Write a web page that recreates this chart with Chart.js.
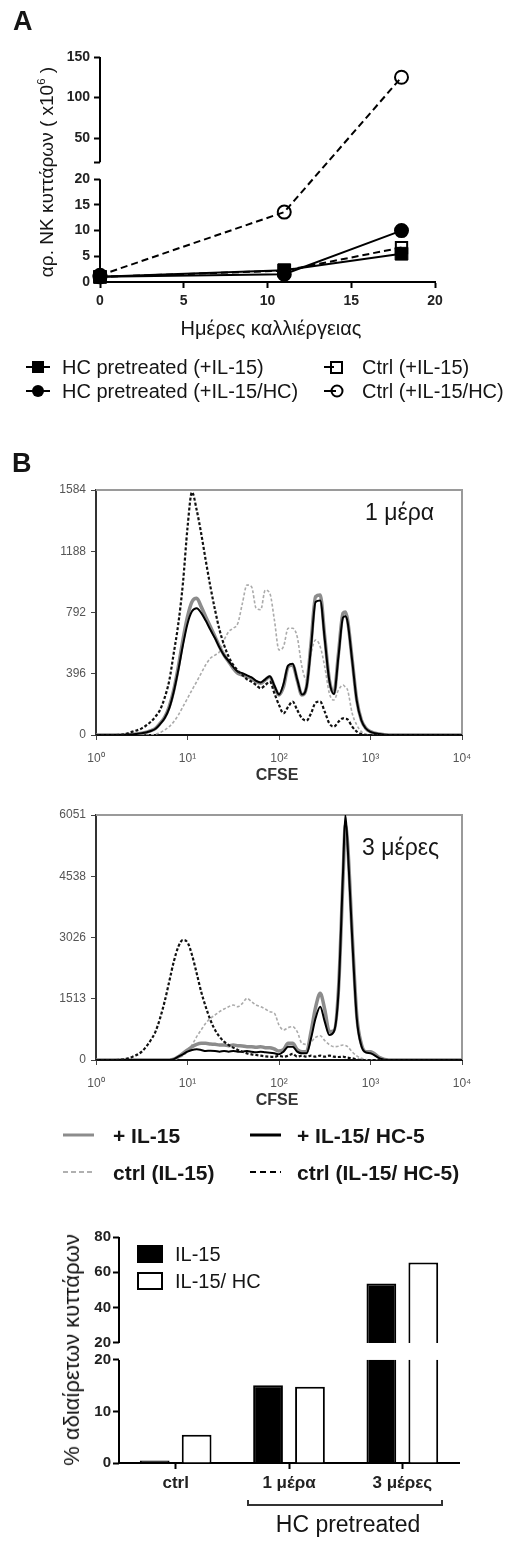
<!DOCTYPE html>
<html>
<head>
<meta charset="utf-8">
<script src="https://cdn.jsdelivr.net/npm/chart.js@4.4.1/dist/chart.umd.min.js"></script>
<style>
html, body { margin: 0; padding: 0; background: #fff; }
#fig { position: relative; width: 527px; height: 1548px; overflow: hidden; background: #fff;
       font-family: "Liberation Sans", Arial, sans-serif; color: #151515; }
#fig canvas { position: absolute; left: 0; }
.t { position: absolute; white-space: nowrap; line-height: 1; }
.c { transform: translate(-50%, -50%); }
.l { transform: translateY(-50%); }
.rot { transform: translate(-50%, -50%) rotate(-90deg); }
.b { font-weight: bold; }
sup { font-size: 60%; vertical-align: 0.7em; line-height: 0; }
.sw { position: absolute; transform: translateY(-50%); }
</style>
</head>
<body>
<div id="fig">
  <canvas id="chartA" width="527" height="345" style="top:0px"></canvas>
  <canvas id="chartDay1" width="527" height="310" style="top:470px"></canvas>
  <canvas id="chartDay3" width="527" height="305" style="top:795px"></canvas>
  <canvas id="chartBar" width="527" height="348" style="top:1200px"></canvas>

  <!-- panel A -->
  <div class="t b" style="left:13px;top:8px;font-size:27px;">A</div>
  <div class="t rot" style="left:46px;top:172px;font-size:19px;">αρ. NK κυττάρων ( x10<sup>6</sup> )</div>
  <div class="t c" style="left:271px;top:328px;font-size:20px;">Ημέρες καλλιέργειας</div>

  <svg class="sw" style="left:26px;top:367px" width="24" height="16"><line x1="0" y1="8" x2="24" y2="8" stroke="#000" stroke-width="2"/><rect x="6" y="2" width="12" height="12" fill="#000"/></svg>
  <div class="t l" style="left:62px;top:367px;font-size:20px;">HC pretreated (+IL-15)</div>
  <svg class="sw" style="left:26px;top:391px" width="24" height="16"><line x1="0" y1="8" x2="24" y2="8" stroke="#000" stroke-width="2"/><circle cx="12" cy="8" r="6" fill="#000"/></svg>
  <div class="t l" style="left:62px;top:391px;font-size:20px;">HC pretreated (+IL-15/HC)</div>
  <svg class="sw" style="left:324px;top:367px" width="22" height="16"><line x1="0" y1="8" x2="10" y2="8" stroke="#000" stroke-width="2"/><rect x="7" y="3" width="11" height="11" fill="none" stroke="#000" stroke-width="2"/></svg>
  <div class="t l" style="left:362px;top:367px;font-size:20px;">Ctrl (+IL-15)</div>
  <svg class="sw" style="left:324px;top:391px" width="22" height="16"><line x1="0" y1="8" x2="12" y2="8" stroke="#000" stroke-width="2"/><circle cx="13" cy="8" r="5.5" fill="none" stroke="#000" stroke-width="2"/></svg>
  <div class="t l" style="left:362px;top:391px;font-size:20px;">Ctrl (+IL-15/HC)</div>

  <!-- panel B -->
  <div class="t b l" style="left:12px;top:463px;font-size:27px;">B</div>
  <div class="t l" style="left:365px;top:512px;font-size:23px;">1 μέρα</div>
  <div class="t b c" style="left:277px;top:775px;font-size:16px;color:#333;">CFSE</div>
  <div class="t l" style="left:362px;top:847px;font-size:23px;">3 μέρες</div>
  <div class="t b c" style="left:277px;top:1100px;font-size:16px;color:#333;">CFSE</div>

  <svg class="sw" style="left:63px;top:1135px" width="31" height="6"><line x1="0" y1="3" x2="31" y2="3" stroke="#8c8c8c" stroke-width="3"/></svg>
  <div class="t b l" style="left:113px;top:1135px;font-size:21px;">+ IL-15</div>
  <svg class="sw" style="left:250px;top:1135px" width="31" height="6"><line x1="0" y1="3" x2="31" y2="3" stroke="#000" stroke-width="3"/></svg>
  <div class="t b l" style="left:297px;top:1135px;font-size:21px;">+ IL-15/ HC-5</div>
  <svg class="sw" style="left:63px;top:1172px" width="31" height="6"><line x1="0" y1="3" x2="31" y2="3" stroke="#b0b0b0" stroke-width="2" stroke-dasharray="5 3"/></svg>
  <div class="t b l" style="left:113px;top:1172px;font-size:21px;">ctrl (IL-15)</div>
  <svg class="sw" style="left:250px;top:1172px" width="31" height="6"><line x1="0" y1="3" x2="31" y2="3" stroke="#000" stroke-width="2" stroke-dasharray="6 4"/></svg>
  <div class="t b l" style="left:297px;top:1172px;font-size:21px;">ctrl (IL-15/ HC-5)</div>

  <div class="t rot" style="left:72px;top:1350px;font-size:22px;">% αδιαίρετων κυττάρων</div>
  <div style="position:absolute;left:137px;top:1245px;width:26px;height:18px;background:#000;"></div>
  <div class="t l" style="left:175px;top:1254px;font-size:20px;">IL-15</div>
  <div style="position:absolute;left:137px;top:1272px;width:26px;height:18px;box-sizing:border-box;border:2px solid #000;background:#fff;"></div>
  <div class="t l" style="left:175px;top:1281px;font-size:20px;">IL-15/ HC</div>
  <div style="position:absolute;left:247px;top:1500px;width:196px;height:6px;box-sizing:border-box;border:2px solid #333;border-top:none;"></div>
  <div class="t c" style="left:348px;top:1524px;font-size:23px;">HC pretreated</div>
</div>

<script>
// panel A: NK cell numbers (x10^6) per culture day
const days = [0, 11, 18];
const hcIl15 = [1.0, 2.3, 5.5];
const hcIl15Hc = [1.0, 1.5, 10.0];
const ctrlIl15 = [1.0, 2.2, 6.7];
const ctrlIl15Hc = [1.3, 13.6, 125];
const cellTicksLow = [0, 5, 10, 15, 20];
const cellTicksHigh = [20, 50, 100, 150];

// panel B: CFSE histograms (counts per CFSE channel)
const cfse = [1, 1.58, 2.0, 2.51, 3.16, 3.98, 4.47, 5.01, 5.62, 6.31,
  7.08, 7.94, 8.91, 10, 11.2, 12.6, 14.1, 15.8, 17.8, 20,
  22.4, 25.1, 28.2, 31.6, 35.5, 39.8, 44.7, 50.1, 56.2, 63.1,
  70.8, 79.4, 89.1, 100, 112, 126, 141, 158, 178, 200,
  224, 251, 282, 316, 355, 398, 447, 501, 531, 562,
  631, 708, 794, 891, 1000, 1259, 1585, 2512, 10000];
const cfseTicks = [1, 10, 100, 1000, 10000];
const cfseTickLabels = ['10⁰', '10¹', '10²', '10³', '10⁴'];

const day1Ticks = [0, 396, 792, 1188, 1584];
const day1CtrlHc = [0, 0, 4, 22, 43, 86, 119, 162, 240, 350,
  530, 720, 980, 1340, 1570, 1455, 1304, 1131, 959, 808,
  679, 582, 506, 453, 416, 388, 360, 345, 323, 302,
  323, 345, 269, 194, 140, 183, 216, 162, 108, 93,
  140, 209, 216, 151, 75, 54, 86, 108, 105, 101,
  54, 22, 6, 0, 0, 0, 0, 0, 0];
const day1Hc = [0, 0, 0, 4, 11, 26, 40, 70, 108, 172,
  280, 420, 580, 720, 800, 820, 790, 740, 680, 625,
  565, 515, 478, 440, 410, 400, 385, 372, 350, 340,
  360, 380, 318, 262, 330, 450, 460, 360, 262, 310,
  570, 860, 870, 620, 350, 265, 510, 760, 768, 730,
  480, 220, 95, 42, 20, 6, 0, 0, 0];
const day1Il15 = [0, 0, 0, 4, 11, 28, 43, 75, 114, 183,
  291, 442, 614, 765, 862, 884, 830, 765, 700, 636,
  571, 517, 474, 431, 399, 388, 377, 366, 345, 334,
  356, 377, 312, 259, 312, 442, 453, 356, 259, 312,
  593, 894, 905, 636, 356, 269, 528, 787, 795, 743,
  485, 226, 97, 43, 22, 6, 0, 0, 0];
const day1Ctrl = [0, 0, 0, 0, 0, 0, 6, 15, 32, 54,
  86, 129, 183, 237, 291, 345, 399, 453, 496, 517,
  539, 614, 668, 690, 722, 851, 970, 959, 820, 810,
  937, 916, 743, 550, 571, 690, 690, 636, 442, 356,
  528, 614, 571, 442, 269, 226, 291, 323, 310, 291,
  140, 65, 22, 6, 0, 0, 0, 0, 0];

const day3Ticks = [0, 1513, 3026, 4538, 6051];
const day3CtrlHc = [0, 0, 16, 82, 206, 494, 700, 1029, 1441, 1935,
  2429, 2799, 2964, 2906, 2593, 2141, 1688, 1317, 988, 741,
  576, 453, 370, 305, 247, 206, 165, 140, 123, 107,
  91, 82, 74, 107, 82, 107, 150, 82, 107, 82,
  107, 82, 107, 82, 107, 82, 74, 82, 70, 58,
  41, 16, 0, 0, 0, 0, 0, 0, 0];
const day3Hc = [0, 0, 0, 0, 0, 0, 0, 0, 0, 0,
  20, 82, 140, 206, 247, 263, 247, 222, 230, 222,
  206, 222, 206, 222, 206, 206, 222, 206, 189, 206,
  189, 181, 165, 140, 206, 329, 329, 206, 165, 165,
  535, 1029, 1317, 947, 617, 700, 1688, 4652, 6051, 5310,
  3005, 1029, 354, 189, 165, 41, 0, 0, 0];
const day3Il15 = [0, 0, 0, 0, 0, 0, 0, 0, 0, 0,
  20, 82, 165, 247, 329, 387, 412, 412, 395, 387,
  370, 370, 354, 370, 354, 346, 329, 329, 313, 329,
  305, 305, 272, 222, 260, 412, 412, 260, 206, 206,
  700, 1300, 1647, 1250, 700, 720, 1750, 4500, 5800, 5350,
  3100, 1100, 400, 206, 206, 58, 0, 0, 0];
const day3Ctrl = [0, 0, 0, 0, 0, 0, 0, 0, 0, 0,
  0, 58, 107, 206, 370, 576, 741, 906, 1029, 1111,
  1194, 1260, 1317, 1358, 1317, 1400, 1523, 1441, 1358, 1317,
  1260, 1194, 1153, 864, 741, 799, 823, 700, 412, 387,
  450, 560, 600, 480, 380, 330, 340, 370, 360, 330,
  200, 100, 41, 10, 0, 0, 0, 0, 0];

// panel B bars: % undivided cells
const groups = ['ctrl', '1 μέρα', '3 μέρες'];
const undividedIl15 = [0.5, 15.1, 53.7];
const undividedIl15Hc = [5.5, 14.8, 65.6];
const pctTicksLow = [0, 10, 20];
const pctTicksHigh = [20, 40, 60, 80];

Chart.defaults.font.family = '"Liberation Sans", Arial, sans-serif';
Chart.defaults.animation = false;
Chart.defaults.events = [];

// linear axis with a break: lower part [min, at], upper part [at, max]
const LinearScale = Chart.LinearScale || Chart.registry.getScale('linear');
class BrokenScale extends LinearScale {
  buildTicks() {
    const b = this.options.brk;
    const lo = b.low.map(v => ({ value: v, upper: false }));
    const hi = b.high.map(v => ({ value: v, upper: true, hide: b.hideFirstHigh && v === b.at }));
    return lo.concat(hi);
  }
  decimalFor(v, upper) {
    const b = this.options.brk;
    if (!upper && v <= b.at) return (v - this.min) / (b.at - this.min) * b.lowFrac;
    const start = b.lowFrac + b.gapFrac;
    return start + (v - b.at) / (this.max - b.at) * (1 - start);
  }
  getPixelForValue(v) {
    return this.getPixelForDecimal(this.decimalFor(v, v > this.options.brk.at));
  }
  getPixelForTick(i) {
    const t = this.ticks[i];
    return this.getPixelForDecimal(this.decimalFor(t.value, t.upper));
  }
  drawBorder() {
    const b = this.options.brk, ctx = this.ctx;
    const x = this.right;
    ctx.save();
    ctx.strokeStyle = '#000';
    ctx.lineWidth = 2;
    ctx.beginPath();
    ctx.moveTo(x, this.getPixelForDecimal(0) + 1);
    ctx.lineTo(x, this.getPixelForDecimal(b.lowFrac));
    ctx.moveTo(x, this.getPixelForDecimal(b.lowFrac + b.gapFrac));
    ctx.lineTo(x, this.getPixelForDecimal(1));
    ctx.stroke();
    ctx.restore();
  }
}
BrokenScale.id = 'broken';
BrokenScale.defaults = {};
Chart.register(BrokenScale);

const brokenLabel = function (v, i, ticks) { return ticks[i].hide ? '' : String(v); };

// white band across the bars at the axis break
const breakGap = {
  id: 'breakGap',
  afterDatasetsDraw(chart) {
    const y = chart.scales.y, b = y.options.brk, a = chart.chartArea, ctx = chart.ctx;
    const top = y.getPixelForDecimal(b.lowFrac + b.gapFrac);
    const bottom = y.getPixelForDecimal(b.lowFrac);
    ctx.save();
    ctx.fillStyle = '#fff';
    ctx.fillRect(a.left + 2, top, a.right - a.left, bottom - top);
    ctx.restore();
  }
};

// grey top/right frame of the histograms
const histFrame = {
  id: 'histFrame',
  beforeDatasetsDraw(chart) {
    const { ctx, chartArea: a } = chart;
    ctx.save();
    ctx.strokeStyle = '#9a9a9a';
    ctx.lineWidth = 2;
    ctx.beginPath();
    ctx.moveTo(a.left, a.top);
    ctx.lineTo(a.right, a.top);
    ctx.lineTo(a.right, a.bottom);
    ctx.stroke();
    ctx.restore();
  }
};

const tickGrid = (len, w) => ({ display: true, drawOnChartArea: false, drawTicks: true, tickLength: len, tickWidth: w, tickColor: '#000', offset: false });

// ---------- panel A ----------
const pts = (ys) => days.map((d, i) => ({ x: d, y: ys[i] }));
new Chart(document.getElementById('chartA'), {
  type: 'line',
  data: {
    datasets: [
      { label: 'HC pretreated (+IL-15)', data: pts(hcIl15), borderColor: '#000', backgroundColor: '#000',
        borderWidth: 2, pointStyle: 'rect', pointRadius: 9, pointBorderWidth: 1, clip: false },
      { label: 'HC pretreated (+IL-15/HC)', data: pts(hcIl15Hc), borderColor: '#000', backgroundColor: '#000',
        borderWidth: 2, pointStyle: 'circle', pointRadius: 6.5, clip: false },
      { label: 'Ctrl (+IL-15)', data: pts(ctrlIl15), borderColor: '#000', backgroundColor: 'rgba(0,0,0,0)',
        borderWidth: 2, borderDash: [7, 4], pointStyle: 'rect', pointRadius: 8, pointBorderWidth: 2, clip: false },
      { label: 'Ctrl (+IL-15/HC)', data: pts(ctrlIl15Hc), borderColor: '#000', backgroundColor: 'rgba(0,0,0,0)',
        borderWidth: 2, borderDash: [7, 4], pointStyle: 'circle', pointRadius: 6.5, pointBorderWidth: 2, clip: false }
    ]
  },
  options: {
    responsive: false,
    layout: { padding: { top: 57, right: 92, left: 0, bottom: 0 } },
    plugins: { legend: { display: false }, tooltip: { enabled: false } },
    scales: {
      x: {
        type: 'linear', min: 0, max: 20,
        ticks: { stepSize: 5, color: '#222', font: { size: 14, weight: 'bold' }, padding: 5, maxRotation: 0 },
        grid: tickGrid(6, 2),
        border: { display: true, color: '#000', width: 2 },
        afterFit: (s) => { s.height = 63; }
      },
      y: {
        type: 'broken', min: 0, max: 150,
        brk: { at: 20, lowFrac: 0.457, gapFrac: 0.075, low: cellTicksLow, high: cellTicksHigh, hideFirstHigh: true },
        ticks: { autoSkip: false, color: '#222', font: { size: 14, weight: 'bold' }, padding: 4, callback: brokenLabel },
        grid: tickGrid(6, 2),
        afterFit: (s) => { s.width = 100; }
      }
    }
  }
});

// ---------- panel B histograms ----------
function histogram(id, ticks, curves, topPad, axisH) {
  const series = (ys) => cfse.map((x, i) => ({ x: x, y: ys[i] }));
  return new Chart(document.getElementById(id), {
    type: 'line',
    data: {
      datasets: [
        { label: 'ctrl (IL-15/ HC-5)', data: series(curves[0]), borderColor: '#111', borderWidth: 2.2, borderDash: [3, 2] },
        { label: '+ IL-15/ HC-5', data: series(curves[1]), borderColor: '#000', borderWidth: 2 },
        { label: '+ IL-15', data: series(curves[2]), borderColor: '#8c8c8c', borderWidth: 3.5 },
        { label: 'ctrl (IL-15)', data: series(curves[3]), borderColor: '#ababab', borderWidth: 1.6, borderDash: [3, 2] }
      ]
    },
    options: {
      responsive: false,
      layout: { padding: { top: topPad, right: 65, left: 0, bottom: 0 } },
      elements: { point: { radius: 0 }, line: { cubicInterpolationMode: 'monotone' } },
      plugins: { legend: { display: false }, tooltip: { enabled: false } },
      scales: {
        x: {
          type: 'logarithmic', min: 1, max: 10000,
          afterBuildTicks: (s) => { s.ticks = cfseTicks.map(v => ({ value: v })); },
          ticks: { autoSkip: false, maxRotation: 0, color: '#555', font: { size: 12 }, padding: 11,
                   callback: (v, i) => cfseTickLabels[i] },
          grid: { display: true, drawOnChartArea: false, tickLength: 5, tickWidth: 1, tickColor: '#444' },
          border: { display: true, color: '#111', width: 2 },
          afterFit: (s) => { s.height = axisH; }
        },
        y: {
          type: 'linear', min: 0, max: ticks[ticks.length - 1],
          afterBuildTicks: (s) => { s.ticks = ticks.map(v => ({ value: v })); },
          ticks: { autoSkip: false, color: '#555', font: { size: 12 }, padding: 5, callback: (v) => String(v) },
          grid: { display: true, drawOnChartArea: false, tickLength: 5, tickWidth: 1, tickColor: '#444' },
          border: { display: true, color: '#333', width: 2 },
          afterFit: (s) => { s.width = 96; }
        }
      }
    },
    plugins: [histFrame]
  });
}
histogram('chartDay1', day1Ticks, [day1CtrlHc, day1Hc, day1Il15, day1Ctrl], 20, 45);
histogram('chartDay3', day3Ticks, [day3CtrlHc, day3Hc, day3Il15, day3Ctrl], 20, 40);

// ---------- panel B bars ----------
new Chart(document.getElementById('chartBar'), {
  type: 'bar',
  data: {
    labels: groups,
    datasets: [
      { label: 'IL-15', data: undividedIl15, backgroundColor: '#000', borderColor: '#000', borderWidth: 2,
        categoryPercentage: 0.74, barPercentage: 0.71 },
      { label: 'IL-15/ HC', data: undividedIl15Hc, backgroundColor: '#fff', borderColor: '#000', borderWidth: 2,
        categoryPercentage: 0.74, barPercentage: 0.71 }
    ]
  },
  options: {
    responsive: false,
    layout: { padding: { top: 37, right: 68, left: 0, bottom: 0 } },
    plugins: { legend: { display: false }, tooltip: { enabled: false } },
    scales: {
      x: {
        ticks: { color: '#222', font: { size: 17, weight: 'bold' }, padding: 4, maxRotation: 0 },
        grid: tickGrid(6, 2),
        border: { display: true, color: '#000', width: 2 },
        afterFit: (s) => { s.height = 85; }
      },
      y: {
        type: 'broken', min: 0, max: 80,
        brk: { at: 20, lowFrac: 0.456, gapFrac: 0.075, low: pctTicksLow, high: pctTicksHigh, hideFirstHigh: false },
        ticks: { autoSkip: false, color: '#222', font: { size: 15, weight: 'bold' }, padding: 2, callback: brokenLabel },
        grid: tickGrid(6, 2),
        afterFit: (s) => { s.width = 119; }
      }
    }
  },
  plugins: [breakGap]
});
</script>
</body>
</html>
